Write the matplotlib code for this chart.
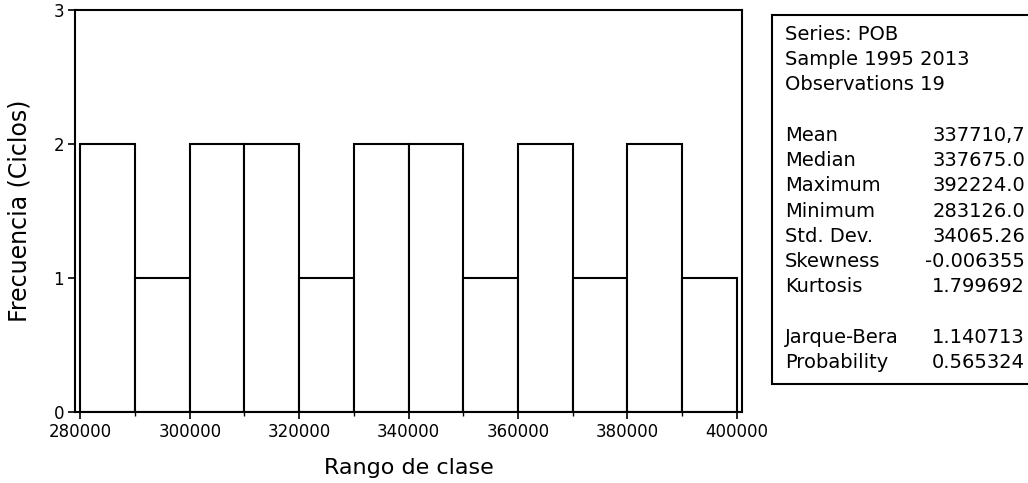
import matplotlib
matplotlib.use("Agg")
import matplotlib.pyplot as plt
from matplotlib.patches import Rectangle
import numpy as np

# histogram data (bins of 10000)
bin_edges = np.arange(280000, 400001, 10000)
counts = [2, 1, 2, 2, 1, 2, 2, 1, 2, 1, 2, 1]
x_ticks = [280000, 300000, 320000, 340000, 360000, 380000, 400000]
y_ticks = [0, 1, 2, 3]

# stats box text
stat_names = ["Mean", "Median", "Maximum", "Minimum", "Std. Dev.",
              "Skewness", "Kurtosis"]
stat_values = ["337710,7", "337675.0", "392224.0", "283126.0", "34065.26",
               "-0.006355", "1.799692"]
test_names = ["Jarque-Bera", "Probability"]
test_values = ["1.140713", "0.565324"]
header = ["Series: POB", "Sample 1995 2013", "Observations 19"]

plt.rcParams['font.family'] = ['DejaVu Sans']

W, H = 1028, 483
fig = plt.figure(figsize=(W / 100, H / 100), dpi=100)
ax = fig.add_axes([75 / W, 1 - 412 / H, 667 / W, 402 / H])

ax.bar(bin_edges[:-1], counts, width=10000, align='edge',
       facecolor='white', edgecolor='black', linewidth=1.5)

ax.set_xlim(279000, 401000)
ax.set_ylim(0, 3)
ax.set_xticks(x_ticks)
ax.set_xticks(bin_edges, minor=True)
ax.set_yticks(y_ticks)
ax.tick_params(axis='both', which='major', direction='out', length=5,
               width=1.2, labelsize=12, pad=3)
ax.tick_params(axis='x', which='minor', direction='out', length=3, width=1.0)
for s in ax.spines.values():
    s.set_linewidth(1.5)

ax.set_xlabel("Rango de clase", fontsize=16, labelpad=12)
ax.set_ylabel("Frecuencia (Ciclos)", fontsize=17, labelpad=16)

# stats box, runs off the right edge like the scan
def fx(px):
    return px / W

def fy(py):
    return 1 - py / H

box = Rectangle((fx(772), fy(384)), fx(1060) - fx(772), fy(15) - fy(384),
                transform=fig.transFigure, facecolor='white',
                edgecolor='black', linewidth=1.5)
fig.patches.append(box)

y0, step = 34, 25.3
lab_x, val_x = 785, 1025
for i, t in enumerate(header):
    fig.text(fx(lab_x), fy(y0 + i * step), t, fontsize=14, va='center')
for i, (n, v) in enumerate(zip(stat_names, stat_values)):
    y = fy(y0 + (i + 4) * step)
    fig.text(fx(lab_x), y, n, fontsize=14, va='center')
    fig.text(fx(val_x), y, v, fontsize=14, va='center', ha='right')
for i, (n, v) in enumerate(zip(test_names, test_values)):
    y = fy(y0 + (i + 12) * step)
    fig.text(fx(lab_x), y, n, fontsize=14, va='center')
    fig.text(fx(val_x), y, v, fontsize=14, va='center', ha='right')

fig.savefig("out.png", dpi=100)
